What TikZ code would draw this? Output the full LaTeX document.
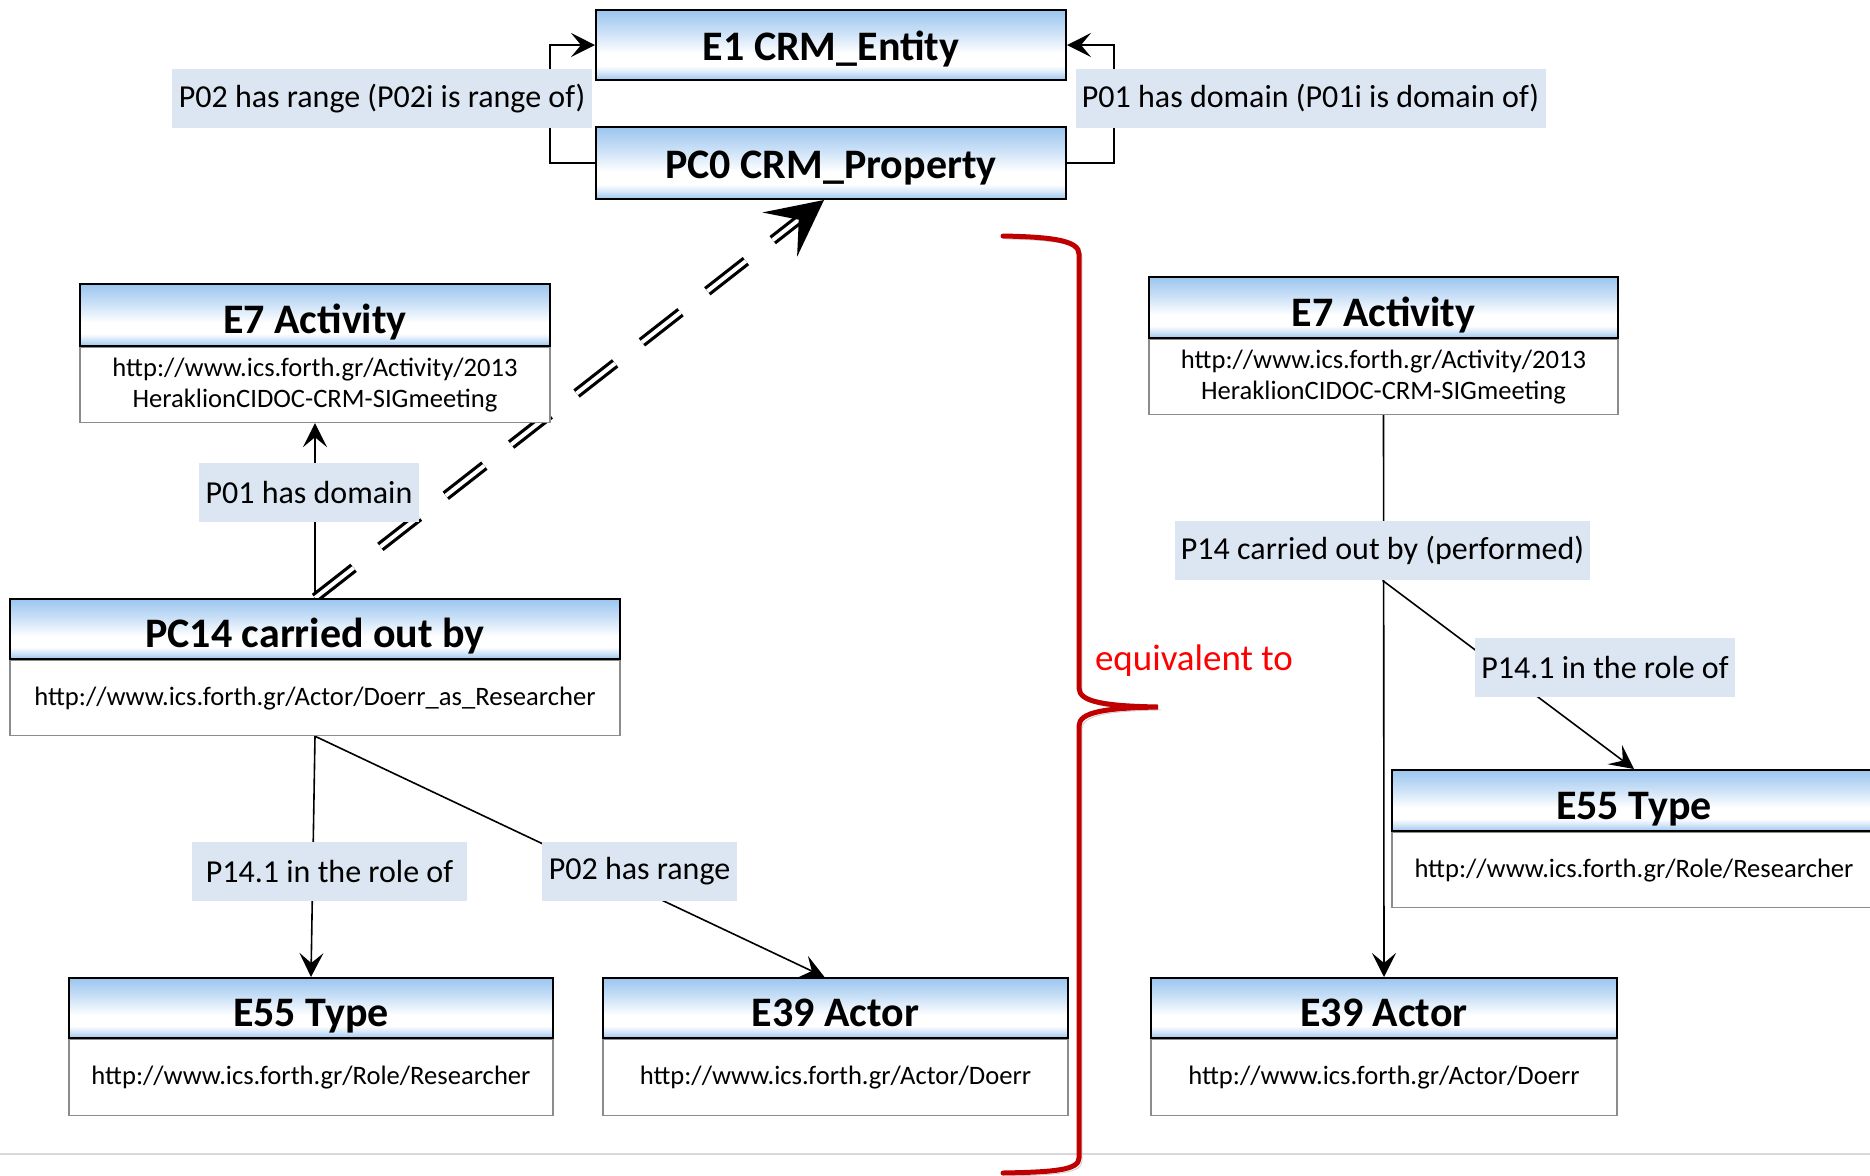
\documentclass[tikz,border=0pt]{standalone}
\usepackage{fontspec}
\setmainfont{Carlito}
\usepackage{tikz}
\usetikzlibrary{positioning,arrows.meta,backgrounds}

\definecolor{hdrblue}{RGB}{155,197,239}
\definecolor{lblfill}{RGB}{220,230,242}
\definecolor{bracered}{RGB}{192,0,0}
\pgfdeclareverticalshading{hdrshade}{100bp}{color(0bp)=(hdrblue); color(25bp)=(hdrblue); color(30bp)=(hdrblue!45); color(35bp)=(white); color(44bp)=(white); color(60bp)=(hdrblue!55); color(75bp)=(hdrblue); color(100bp)=(hdrblue)}

\begin{document}
\begin{tikzpicture}[
  x=0.5pt, y=-0.5pt,
  hdr/.style={rectangle, draw=black, line width=1pt, shading=hdrshade, minimum height=30pt, inner sep=0pt, text height=20pt, text depth=1.5pt, font=\fontsize{21}{25}\selectfont\bfseries},
  top/.style={hdr, minimum width=235pt, text height=17pt},
  body/.style={rectangle, draw=black!45, line width=0.6pt, fill=white, minimum height=37.5pt, inner sep=0pt, align=center, font=\fontsize{13.3}{15.5}\selectfont},
  lbl/.style={rectangle, fill=lblfill, minimum height=29.5pt, inner xsep=3.2pt, font=\fontsize{16}{19}\selectfont},
  arrow/.style={-{Stealth[length=12pt,width=12pt,inset=5pt]}, line width=0.8pt},
  bigarrow/.style={-{Stealth[length=28pt,width=28pt,inset=12pt]}, double, double distance=2pt, line width=1.6pt, dash pattern=on 24.5pt off 17pt}
]
\useasboundingbox (0,0) rectangle (1870,1175);

% Top pair
\node[top, minimum height=35pt] (e1) at (831,45) {E1 CRM\_Entity};
\node[top, minimum height=36pt] (pc0) at (831,163) {PC0 CRM\_Property};

% Left side
\node[hdr, minimum width=235pt, minimum height=31pt] (e7l) at (315,315) {E7 Activity};
\node[body, minimum width=235pt, below=0pt of e7l] (e7lurl) {http://www.ics.forth.gr/Activity/2013\\HeraklionCIDOC-CRM-SIGmeeting};
\node[hdr, minimum width=305pt] (pc14) at (315,629) {PC14 carried out by};
\node[body, minimum width=305pt, below=0pt of pc14] (pc14url) {http://www.ics.forth.gr/Actor/Doerr\_as\_Researcher};
\node[hdr, minimum width=242pt] (e55l) at (311,1008) {E55 Type};
\node[body, minimum width=242pt, minimum height=38pt, below=0pt of e55l] (e55lurl) {http://www.ics.forth.gr/Role/Researcher};
\node[hdr, minimum width=232.5pt] (e39l) at (835.5,1008) {E39 Actor};
\node[body, minimum width=232.5pt, minimum height=38pt, below=0pt of e39l] (e39lurl) {http://www.ics.forth.gr/Actor/Doerr};

% Right side
\node[hdr, minimum width=234.5pt, minimum height=30.5pt] (e7r) at (1383.5,307.5) {E7 Activity};
\node[body, minimum width=234.5pt, below=0pt of e7r] (e7rurl) {http://www.ics.forth.gr/Activity/2013\\HeraklionCIDOC-CRM-SIGmeeting};
\node[hdr, minimum width=242pt, minimum height=30.5pt] (e55r) at (1634,800.5) {E55 Type};
\node[body, minimum width=242pt, below=0pt of e55r] (e55rurl) {http://www.ics.forth.gr/Role/Researcher};
\node[hdr, minimum width=233pt] (e39r) at (1384,1008) {E39 Actor};
\node[body, minimum width=233pt, minimum height=38pt, below=0pt of e39r] (e39rurl) {http://www.ics.forth.gr/Actor/Doerr};

% Property labels
\node[lbl] (lrng) at (382,98.5) {P02 has range (P02i is range of)};
\node[lbl] (ldom) at (1310.5,98.5) {P01 has domain (P01i is domain of)};
\node[lbl] (lp01) at (309,492.5) {P01 has domain};
\node[lbl, minimum width=137.5pt] (lrole) at (329.5,871.5) {P14.1 in the role of};
\node[lbl] (lp02) at (639.5,871.5) {P02 has range};
\node[lbl] (lp14) at (1382.5,550.5) {P14 carried out by (performed)};
\node[lbl] (lroler) at (1605,667.5) {P14.1 in the role of};

% Connectors
\begin{scope}[on background layer]
\draw[black!15, line width=0.6pt] (0,1154) -- (1870,1154);
\draw[arrow] (pc0.west) -- ++(-45,0) |- (e1.west);
\draw[arrow] (pc0.east) -- ++(47,0) |- (e1.east);
\draw[arrow] (pc14.north) -- (e7lurl.south);
\draw[bigarrow] (pc14.north) -- ([xshift=-3.5pt]pc0.south);
\draw[arrow] (pc14url.south) -- (e55l.north);
\draw[arrow] (pc14url.south) -- ([xshift=-5.5pt]e39l.north);
\draw[arrow] (e7rurl.south) -- (e39r.north);
\draw[arrow] (lp14.south) -- (e55r.north);
\end{scope}

% Brace
\draw[bracered, line width=2.5pt, line cap=round, preaction={draw=black!20, transform canvas={xshift=1.5pt, yshift=-1.5pt}}]
  (1003,236) .. controls (1055,237) and (1079,241) .. (1079,254) -- (1079,688)
  .. controls (1079,702) and (1105,706) .. (1158,707)
  .. controls (1105,708) and (1079,712) .. (1079,726) -- (1079,1158)
  .. controls (1079,1170) and (1055,1172) .. (1003,1173);
\node[font=\fontsize{18.5}{22}\selectfont, text=red] (equiv) at (1194,661) {equivalent to};

\end{tikzpicture}
\end{document}
